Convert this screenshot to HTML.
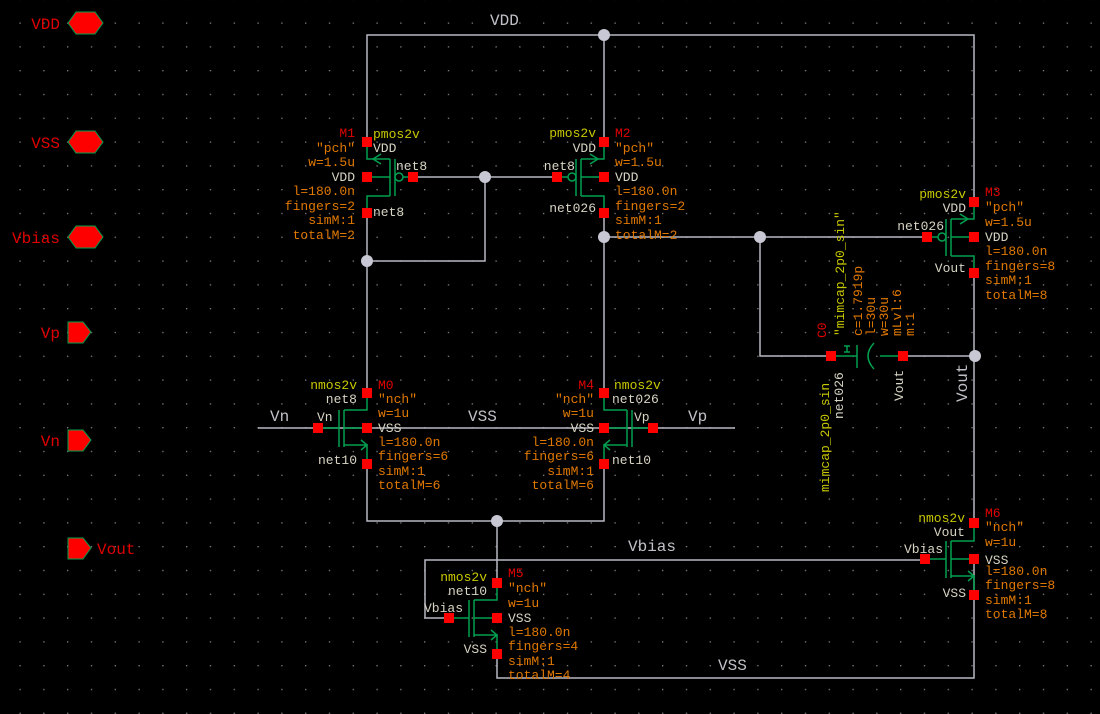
<!DOCTYPE html>
<html><head><meta charset="utf-8"><style>
html,body{margin:0;padding:0;background:#000;}
svg{display:block}
text{font-family:"Liberation Mono",monospace;font-size:13px}
.o{fill:#e07800}.y{fill:#c8c800}.r{fill:#e00000}.w{fill:#d8d4c4}.g{fill:#c0c0c8;font-size:16px}
.e{text-anchor:end}
</style></head><body>
<svg width="1100" height="714" viewBox="0 0 1100 714" xmlns="http://www.w3.org/2000/svg">
<defs>
<pattern id="grid" x="8" y="11" width="23.8" height="23.8" patternUnits="userSpaceOnUse">
<rect x="11.5" y="11.5" width="1.2" height="1.2" fill="#9a9a9a"/>
</pattern>
<g id="pmos" fill="none" stroke="#00a050" stroke-width="1.5">
<path d="M0,-35V-18H23M0,0H23M0,36V19H23M23,-18V19M28,-18V19M36,0H46"/>
<circle cx="32" cy="0" r="4"/>
<path d="M14,-23L6,-18L14,-13"/>
</g>
<g id="nmos" fill="none" stroke="#00a050" stroke-width="1.5">
<path d="M0,-35V-18H23M0,0H23M0,36V17H23M23,-18V19M28,-18V19M28,0H49"/>
<path d="M6,12L0,17L6,22" />
</g>
</defs>
<rect width="1100" height="714" fill="#000"/>
<rect width="1100" height="714" fill="url(#grid)"/>

<g fill="none" stroke="#b8b8c4" stroke-width="1.5">
<path d="M367,142V35H974V202"/>
<path d="M604,35V142"/>
<path d="M413,177H557"/>
<path d="M485,177V261H367"/>
<path d="M367,213V393"/>
<path d="M604,213V393"/>
<path d="M604,237H927"/>
<path d="M760,237V356H831"/>
<path d="M903,356H974"/>
<path d="M974,273V523"/>
<path d="M258,428H735"/>
<path d="M367,464V521H604V464"/>
<path d="M497,521V583"/>
<path d="M449,618H425V560H927"/>
<path d="M974,559V678H497V654"/>
</g>
<g fill="#c8c8d4">
<circle cx="604" cy="35" r="6"/><circle cx="485" cy="177" r="6"/><circle cx="367" cy="261" r="6"/>
<circle cx="604" cy="237" r="6"/><circle cx="760" cy="237" r="6"/><circle cx="975" cy="356" r="6"/>
<circle cx="497" cy="521" r="6"/>
</g>

<use href="#pmos" transform="translate(367,177)"/>
<use href="#pmos" transform="translate(604,177) scale(-1,1)"/>
<use href="#pmos" transform="translate(974,237) scale(-1,1)"/>
<use href="#nmos" transform="translate(367,428) scale(-1,1)"/>
<use href="#nmos" transform="translate(604,428)"/>
<use href="#nmos" transform="translate(497,618) scale(-1,1)"/>
<use href="#nmos" transform="translate(974,559) scale(-1,1)"/>

<g fill="none" stroke="#00a050" stroke-width="1.5">
<path d="M831,356H857M857,345V368M880,356H903"/>
<path d="M874,343Q862,356 874,369"/>
<path d="M844,346H850M847,346V352M844,352H850"/>
</g>

<g fill="#ff0000">
<rect x="362" y="137" width="10" height="10"/><rect x="362" y="172" width="10" height="10"/><rect x="362" y="208" width="10" height="10"/><rect x="408" y="172" width="10" height="10"/>
<rect x="599" y="137" width="10" height="10"/><rect x="599" y="172" width="10" height="10"/><rect x="599" y="208" width="10" height="10"/><rect x="552" y="172" width="10" height="10"/>
<rect x="969" y="197" width="10" height="10"/><rect x="969" y="232" width="10" height="10"/><rect x="969" y="268" width="10" height="10"/><rect x="922" y="232" width="10" height="10"/>
<rect x="362" y="388" width="10" height="10"/><rect x="362" y="423" width="10" height="10"/><rect x="362" y="459" width="10" height="10"/><rect x="313" y="423" width="10" height="10"/>
<rect x="599" y="388" width="10" height="10"/><rect x="599" y="423" width="10" height="10"/><rect x="599" y="459" width="10" height="10"/><rect x="648" y="423" width="10" height="10"/>
<rect x="492" y="578" width="10" height="10"/><rect x="492" y="613" width="10" height="10"/><rect x="492" y="649" width="10" height="10"/><rect x="444" y="613" width="10" height="10"/>
<rect x="969" y="518" width="10" height="10"/><rect x="969" y="554" width="10" height="10"/><rect x="969" y="590" width="10" height="10"/><rect x="920" y="554" width="10" height="10"/>
<rect x="826" y="351" width="10" height="10"/><rect x="898" y="351" width="10" height="10"/>
</g>

<g fill="#ff0000" stroke="#00a050" stroke-width="1">
<polygon points="68,23 76,12 95,12 103,23 95,34 76,34"/>
<polygon points="68,142 76,131 95,131 103,142 95,153 76,153"/>
<polygon points="68,237 76,226 95,226 103,237 95,248 76,248"/>
<polygon points="68,322 83,322 91,332 83,343 68,343"/>
<polygon points="68,430 83,430 91,440 83,451 68,451"/>
<polygon points="68,538 83,538 91,548 83,559 68,559"/>
</g>
<text class="r e" x="60" y="29" style="font-size:16px">VDD</text>
<text class="r e" x="60" y="148" style="font-size:16px">VSS</text>
<text class="r e" x="60" y="243" style="font-size:16px">Vbias</text>
<text class="r e" x="60" y="338" style="font-size:16px">Vp</text>
<text class="r e" x="60" y="446" style="font-size:16px">Vn</text>
<text class="r" x="97" y="554" style="font-size:16px">Vout</text>

<text class="g" x="490" y="25">VDD</text>
<text class="g" x="270" y="421">Vn</text>
<text class="g" x="468" y="421">VSS</text>
<text class="g" x="688" y="421">Vp</text>
<text class="g" x="628" y="551">Vbias</text>
<text class="g" x="718" y="670">VSS</text>
<text class="g" transform="translate(967,402) rotate(-90)">Vout</text>

<text class="r e" x="355" y="137">M1</text>
<text class="o e" x="355" y="152">"pch"</text><text class="o e" x="355" y="166">w=1.5u</text>
<text class="w e" x="355" y="181">VDD</text><text class="o e" x="355" y="195">l=180.0n</text>
<text class="o e" x="355" y="210">fingers=2</text><text class="o e" x="355" y="224">simM:1</text><text class="o e" x="355" y="239">totalM=2</text>
<text class="y" x="373" y="138">pmos2v</text><text class="w" x="373" y="152">VDD</text>
<text class="w" x="396" y="170">net8</text><text class="w" x="373" y="216">net8</text>

<text class="y e" x="596" y="137">pmos2v</text><text class="w e" x="596" y="152">VDD</text>
<text class="w e" x="575" y="170">net8</text><text class="w e" x="596" y="212">net026</text>
<text class="r" x="615" y="137">M2</text><text class="o" x="615" y="152">"pch"</text><text class="o" x="615" y="166">w=1.5u</text>
<text class="w" x="615" y="181">VDD</text><text class="o" x="615" y="195">l=180.0n</text><text class="o" x="615" y="210">fingers=2</text>
<text class="o" x="615" y="224">simM:1</text><text class="o" x="615" y="239">totalM=2</text>

<text class="y e" x="966" y="198">pmos2v</text><text class="w e" x="966" y="212">VDD</text>
<text class="w e" x="944" y="230">net026</text><text class="w e" x="966" y="272">Vout</text>
<text class="r" x="985" y="196">M3</text><text class="o" x="985" y="211">"pch"</text><text class="o" x="985" y="226">w=1.5u</text>
<text class="w" x="985" y="241">VDD</text><text class="o" x="985" y="255">l=180.0n</text><text class="o" x="985" y="270">fingers=8</text>
<text class="o" x="985" y="284">simM:1</text><text class="o" x="985" y="299">totalM=8</text>

<text class="y e" x="357" y="389">nmos2v</text><text class="w e" x="357" y="403">net8</text>
<text class="w" x="317" y="421">Vn</text><text class="w e" x="357" y="464">net10</text>
<text class="r" x="378" y="389">M0</text><text class="o" x="378" y="403">"nch"</text><text class="o" x="378" y="417">w=1u</text>
<text class="w" x="378" y="432">VSS</text><text class="o" x="378" y="446">l=180.0n</text><text class="o" x="378" y="460">fingers=6</text>
<text class="o" x="378" y="475">simM:1</text><text class="o" x="378" y="489">totalM=6</text>

<text class="r e" x="594" y="389">M4</text><text class="o e" x="594" y="403">"nch"</text><text class="o e" x="594" y="417">w=1u</text>
<text class="w e" x="594" y="432">VSS</text><text class="o e" x="594" y="446">l=180.0n</text><text class="o e" x="594" y="460">fingers=6</text>
<text class="o e" x="594" y="475">simM:1</text><text class="o e" x="594" y="489">totalM=6</text>
<text class="y" x="614" y="389">nmos2v</text><text class="w" x="612" y="403">net026</text>
<text class="w" x="634" y="421">Vp</text><text class="w" x="612" y="464">net10</text>

<text class="y e" x="487" y="581">nmos2v</text><text class="w e" x="487" y="595">net10</text>
<text class="w e" x="463" y="612">Vbias</text><text class="w e" x="487" y="653">VSS</text>
<text class="r" x="508" y="577">M5</text><text class="o" x="508" y="592">"nch"</text><text class="o" x="508" y="607">w=1u</text>
<text class="w" x="508" y="622">VSS</text><text class="o" x="508" y="636">l=180.0n</text><text class="o" x="508" y="650">fingers=4</text>
<text class="o" x="508" y="665">simM:1</text><text class="o" x="508" y="679">totalM=4</text>

<text class="y e" x="965" y="522">nmos2v</text><text class="w e" x="965" y="536">Vout</text>
<text class="w e" x="943" y="553">Vbias</text><text class="w e" x="966" y="597">VSS</text>
<text class="r" x="985" y="517">M6</text><text class="o" x="985" y="531">"nch"</text><text class="o" x="985" y="546">w=1u</text>
<text class="w" x="985" y="564">VSS</text><text class="o" x="985" y="575">l=180.0n</text><text class="o" x="985" y="589">fingers=8</text>
<text class="o" x="985" y="604">simM:1</text><text class="o" x="985" y="618">totalM=8</text>

<text class="r" transform="translate(826,338) rotate(-90)">C0</text>
<text class="y" transform="translate(844,336) rotate(-90)">"mimcap_2p0_sin"</text>
<text class="o" transform="translate(862,336) rotate(-90)">c=1.7919p</text>
<text class="o" transform="translate(875,336) rotate(-90)">l=30u</text>
<text class="o" transform="translate(888,336) rotate(-90)">w=30u</text>
<text class="o" transform="translate(901,336) rotate(-90)">mLvl:6</text>
<text class="o" transform="translate(914,336) rotate(-90)">m:1</text>
<text class="y" transform="translate(829,492) rotate(-90)">mimcap_2p0_sin</text>
<text class="w" transform="translate(843,419) rotate(-90)">net026</text>
<text class="w" transform="translate(903,401) rotate(-90)">Vout</text>
</svg>
</body></html>
